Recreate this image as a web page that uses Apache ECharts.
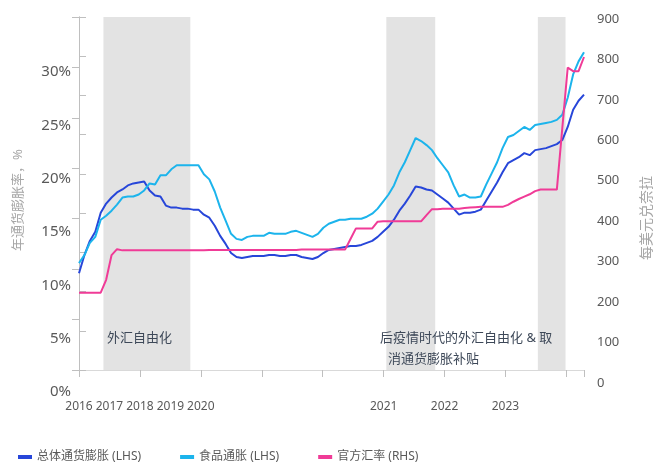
<!DOCTYPE html>
<html>
<head>
<meta charset="utf-8">
<script src="https://cdn.jsdelivr.net/npm/echarts@6/dist/echarts.min.js"></script>
<style>
html, body { margin: 0; padding: 0; background: #fff; }
#chart { width: 668px; height: 467px; }
</style>
</head>
<body>
<div id="chart"></div>
<script>
// Monthly observations, index 0 = Jan 2016 ... index 93 = Oct 2023
const headline = [
  9.6, 11.4, 12.8, 13.7, 15.6, 16.5, 17.1, 17.6, 17.9, 18.3, 18.5, 18.6,
  18.7, 17.8, 17.3, 17.2, 16.3, 16.1, 16.1, 16.0, 16.0, 15.9, 15.9, 15.4,
  15.1, 14.3, 13.3, 12.5, 11.6, 11.2, 11.1, 11.2, 11.3, 11.3, 11.3, 11.4,
  11.4, 11.3, 11.3, 11.4, 11.4, 11.2, 11.1, 11.0, 11.2, 11.6, 11.9, 12.0,
  12.1, 12.2, 12.3, 12.3, 12.4, 12.6, 12.8, 13.2, 13.7, 14.2, 14.9, 15.8,
  16.5, 17.3, 18.2, 18.1, 17.9, 17.8, 17.4, 17.0, 16.6, 16.0, 15.4, 15.6,
  15.6, 15.7, 15.9, 16.8, 17.7, 18.6, 19.6, 20.5, 20.8, 21.1, 21.5, 21.3,
  21.8, 21.9, 22.0, 22.2, 22.4, 22.8, 24.1, 25.8, 26.7, 27.3
];
const food = [
  10.6, 11.4, 12.6, 13.2, 14.9, 15.3, 15.8, 16.4, 17.1, 17.2, 17.2, 17.4,
  17.8, 18.5, 18.4, 19.3, 19.3, 19.9, 20.3, 20.3, 20.3, 20.3, 20.3, 19.4,
  18.9, 17.7, 16.1, 14.8, 13.5, 13.0, 12.9, 13.2, 13.3, 13.3, 13.3, 13.6,
  13.5, 13.5, 13.5, 13.7, 13.8, 13.6, 13.4, 13.2, 13.5, 14.1, 14.5, 14.7,
  14.9, 14.9, 15.0, 15.0, 15.0, 15.2, 15.5, 16.0, 16.7, 17.4, 18.3, 19.6,
  20.6, 21.8, 23.0, 22.7, 22.3, 21.8, 21.0, 20.3, 19.6, 18.3, 17.2, 17.4,
  17.1, 17.1, 17.2, 18.4, 19.5, 20.6, 22.0, 23.1, 23.3, 23.7, 24.1, 23.8,
  24.3, 24.4, 24.5, 24.6, 24.8, 25.3, 27.0, 29.3, 30.6, 31.5
];
const fxRate = [
  197, 197, 197, 197, 197, 230, 293, 308, 305, 305, 305, 305,
  305, 305, 305, 305, 305, 305, 305, 305, 305, 305, 305, 305,
  306, 306, 306, 306, 306, 306, 306, 306, 306, 306, 306, 306,
  306, 306, 306, 306, 306, 307, 307, 307, 307, 307, 307, 307,
  307, 307, 334, 361, 361, 361, 361, 378, 379, 379, 379, 379,
  379, 379, 379, 379, 395, 410, 410, 411, 411, 411, 411, 413,
  414, 415, 416, 416, 416, 416, 416, 421, 429, 436, 442, 448,
  456, 460, 460, 460, 460, 616, 771, 762, 762, 798
];

// Policy periods, in month index
const bandStart = [4.5, 56.6, 84.5];
const bandEnd = [20.5, 65.6, 89.6];

// Bottom tick labels and where they sit along the tick scale
const xTickLabels = ['2016', '2017', '2018', '2019', '2020', '2021', '2022', '2023'];
const xTickPos = [0, 0.5, 1, 1.5, 2, 5, 6, 7];

const seriesNames = ['总体通货膨胀 (LHS)', '食品通胀 (LHS)', '官方汇率 (RHS)'];
const bandNotes = ['外汇自由化', '后疫情时代的外汇自由化 & 取', '消通货膨胀补贴'];

const FONT = '"Noto Sans", "Noto Sans CJK SC", sans-serif';
const LAST = headline.length - 1;
const TICK_UNITS = LAST / 11.22;

const chart = echarts.init(document.getElementById('chart'), null, { renderer: 'canvas' });

const hiddenX = (g) => ({ type: 'value', gridIndex: g, show: false, min: 0, max: 1 });

chart.setOption({
  animation: false,
  textStyle: { fontFamily: FONT },
  grid: [
    { left: 79, right: 84, top: 17, bottom: 97 },
    { left: 79, right: 84, top: 18.67, height: 373.33 },
    { left: 79, right: 84, top: 19, height: 364 }
  ],
  xAxis: [
    { type: 'value', gridIndex: 0, min: 0, max: LAST,
      axisLine: { show: true, lineStyle: { color: '#d9d9d9', width: 1 } },
      axisTick: { show: false }, axisLabel: { show: false }, splitLine: { show: false } },
    { type: 'value', gridIndex: 0, min: 0, max: TICK_UNITS, interval: 1, position: 'bottom',
      axisLine: { show: false },
      axisTick: { show: true, length: 7, lineStyle: { color: '#bfbfbf' } },
      axisLabel: { show: false }, splitLine: { show: false } },
    { type: 'value', gridIndex: 0, min: 0, max: TICK_UNITS, interval: 0.5, position: 'bottom',
      axisLine: { show: false }, axisTick: { show: false }, splitLine: { show: false },
      axisLabel: {
        show: true, margin: 31, fontSize: 12, color: '#595959', fontFamily: FONT,
        showMaxLabel: false,
        formatter: (v) => {
          const i = xTickPos.findIndex(p => Math.abs(p - v) < 1e-6);
          return i >= 0 ? xTickLabels[i] : '';
        }
      } },
    hiddenX(1),
    hiddenX(2)
  ],
  yAxis: [
    { type: 'value', gridIndex: 0, min: 0, max: 35, interval: 5, position: 'left',
      axisLine: { show: true, lineStyle: { color: '#bfbfbf' } },
      axisTick: { show: true, length: 7, lineStyle: { color: '#bfbfbf' } },
      axisLabel: { show: false }, splitLine: { show: false } },
    { type: 'value', gridIndex: 0, min: 0, max: 900, interval: 100, position: 'right',
      axisLine: { show: true, lineStyle: { color: '#bfbfbf' } },
      axisTick: { show: true, length: 7, lineStyle: { color: '#bfbfbf' } },
      axisLabel: { show: false }, splitLine: { show: false } },
    { type: 'value', gridIndex: 1, min: 0, max: 35, interval: 5, position: 'left',
      axisLine: { show: false }, axisTick: { show: false }, splitLine: { show: false },
      axisLabel: { margin: 8, fontSize: 15, color: '#595959', fontFamily: FONT,
        formatter: (v) => (v === 35 ? '' : v + '%') } },
    { type: 'value', gridIndex: 2, min: 0, max: 900, interval: 100, position: 'right',
      axisLine: { show: false }, axisTick: { show: false }, splitLine: { show: false },
      axisLabel: { margin: 13, fontSize: 13, color: '#595959', fontFamily: FONT } }
  ],
  legend: {
    data: seriesNames,
    left: 13, top: 446,
    icon: 'rect', itemWidth: 14, itemHeight: 4, itemGap: 39,
    textStyle: { fontSize: 12, color: '#595959', fontFamily: FONT }
  },
  series: [
    { name: 'bands', type: 'line', xAxisIndex: 0, yAxisIndex: 0, data: [], silent: true, z: 1,
      markArea: {
        silent: true,
        itemStyle: { color: '#e3e3e3' },
        data: bandStart.map((s, i) => [{ xAxis: s }, { xAxis: bandEnd[i] }])
      } },
    { name: seriesNames[0], type: 'line', xAxisIndex: 0, yAxisIndex: 0, z: 3,
      data: headline.map((v, i) => [i, v]), symbol: 'none',
      itemStyle: { color: '#2746d9' }, lineStyle: { color: '#2746d9', width: 2 } },
    { name: seriesNames[1], type: 'line', xAxisIndex: 0, yAxisIndex: 0, z: 3,
      data: food.map((v, i) => [i, v]), symbol: 'none',
      itemStyle: { color: '#1cb4ec' }, lineStyle: { color: '#1cb4ec', width: 2 } },
    { name: seriesNames[2], type: 'line', xAxisIndex: 0, yAxisIndex: 1, z: 3,
      data: fxRate.map((v, i) => [i, v]), symbol: 'none',
      itemStyle: { color: '#f03b97' }, lineStyle: { color: '#f03b97', width: 2 } }
  ],
  graphic: [
    { type: 'text', x: 107, y: 338, z: 10,
      style: { text: bandNotes[0], fontSize: 13, fontFamily: FONT, fill: '#3d4858', verticalAlign: 'middle' } },
    { type: 'text', x: 380, y: 338, z: 10,
      style: { text: bandNotes[1], fontSize: 13, fontFamily: FONT, fill: '#3d4858', verticalAlign: 'middle' } },
    { type: 'text', x: 388, y: 359, z: 10,
      style: { text: bandNotes[2], fontSize: 13, fontFamily: FONT, fill: '#3d4858', verticalAlign: 'middle' } },
    { type: 'text', x: 18.5, y: 200, rotation: Math.PI / 2, z: 10,
      style: { text: '年通货膨胀率，%', fontSize: 13, fontFamily: FONT, fill: '#a6a6a6', align: 'center', verticalAlign: 'middle' } },
    { type: 'text', x: 647, y: 218, rotation: Math.PI / 2, z: 10,
      style: { text: '每美元兑奈拉', fontSize: 14, fontFamily: FONT, fill: '#a6a6a6', align: 'center', verticalAlign: 'middle' } }
  ]
});
</script>
</body>
</html>
